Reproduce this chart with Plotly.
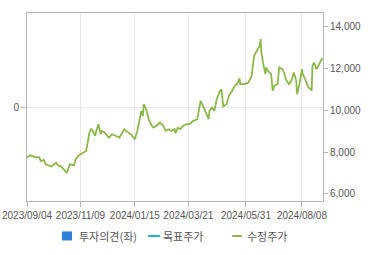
import plotly.graph_objects as go

dates = [
    "2023-09-04", "2023-09-08", "2023-09-15", "2023-09-19", "2023-09-21", "2023-09-25", "2023-09-27",
    "2023-10-04", "2023-10-10", "2023-10-12", "2023-10-16", "2023-10-19", "2023-10-23", "2023-10-27",
    "2023-11-01", "2023-11-03", "2023-11-06", "2023-11-09", "2023-11-16", "2023-11-20", "2023-11-22",
    "2023-11-24", "2023-11-27", "2023-11-28", "2023-12-01", "2023-12-04", "2023-12-05", "2023-12-08",
    "2023-12-14", "2023-12-18", "2023-12-22", "2023-12-27", "2024-01-02", "2024-01-04", "2024-01-10",
    "2024-01-15", "2024-01-18", "2024-01-22", "2024-01-23", "2024-01-25", "2024-01-26", "2024-01-29",
    "2024-02-01", "2024-02-05", "2024-02-07", "2024-02-13", "2024-02-15", "2024-02-19", "2024-02-22",
    "2024-02-26", "2024-02-29", "2024-03-04", "2024-03-05", "2024-03-08", "2024-03-11", "2024-03-14",
    "2024-03-19", "2024-03-22", "2024-03-27", "2024-04-01", "2024-04-03", "2024-04-05", "2024-04-08",
    "2024-04-10", "2024-04-15", "2024-04-16", "2024-04-19", "2024-04-22", "2024-04-25", "2024-04-29",
    "2024-05-01", "2024-05-02", "2024-05-03", "2024-05-07", "2024-05-10", "2024-05-14", "2024-05-17",
    "2024-05-20", "2024-05-23", "2024-05-24", "2024-05-29", "2024-06-03", "2024-06-07", "2024-06-10",
    "2024-06-13", "2024-06-17", "2024-06-18", "2024-06-19", "2024-06-21", "2024-06-24", "2024-06-25",
    "2024-06-27", "2024-07-01", "2024-07-03", "2024-07-05", "2024-07-09", "2024-07-11", "2024-07-15",
    "2024-07-17", "2024-07-19", "2024-07-23", "2024-07-26", "2024-07-29", "2024-08-01", "2024-08-02",
    "2024-08-05", "2024-08-08", "2024-08-09", "2024-08-12", "2024-08-16", "2024-08-19", "2024-08-20",
    "2024-08-21", "2024-08-23", "2024-08-26", "2024-08-29", "2024-09-02",
]
adj_price = [
    7750, 7850, 7750, 7760, 7580, 7620, 7420,
    7310, 7500, 7375, 7310, 7180, 7025, 7420,
    7375, 7660, 7820, 7900, 8060, 8945, 9100,
    9020, 8780, 8940, 9340, 8860, 9020, 8970,
    8700, 8860, 8780, 8700, 9100, 9020, 8860,
    8620, 9020, 9740, 9980, 9740, 10300, 10060,
    9580, 9260, 9180, 9340, 9420, 9260, 9020,
    9100, 9020, 9100, 8900, 9180, 9100, 9260,
    9340, 9340, 9500, 9580, 10060, 10460, 10220,
    10060, 9580, 9980, 10140, 9980, 10540, 10940,
    11000, 10540, 10190, 10300, 10700, 10940, 11180,
    11260, 11535, 11260, 11260, 11340, 11660, 12620,
    12860, 13100, 13420, 12780, 12300, 11740, 12060,
    11900, 11740, 10940, 11180, 11260, 12060, 11980,
    11820, 11500, 11260, 11420, 11820, 11420, 10780,
    11260, 11980, 11740, 11500, 11100, 11020, 10940,
    12140, 12300, 11980, 12220, 12500,
]
# 투자의견 / 목표주가: no values shown in the reference period
opinion_dates = []
opinion_vals = []

x_tick_vals = ["2023-09-04", "2023-11-09", "2024-01-15", "2024-03-21", "2024-05-31", "2024-08-08"]
x_tick_text = ["2023/09/04", "2023/11/09", "2024/01/15", "2024/03/21", "2024/05/31", "2024/08/08"]
left_ticks = [0]
left_tick_text = ["0"]
right_ticks = [6000, 8000, 10000, 12000, 14000]
right_tick_text = ["6,000", "8,000", "10,000", "12,000", "14,000"]
legend_names = ["투자의견(좌)", "목표주가", "수정주가"]
legend_colors = ["#2f7ed8", "#1fb3c8", "#8cb84a"]

GRAY = "#b4b4b4"
TXT = "#555555"
num_font = dict(family="Liberation Sans, Arial", size=10, color=TXT)

fig = go.Figure()
fig.add_trace(go.Bar(x=opinion_dates, y=opinion_vals, yaxis="y",
                     marker_color=legend_colors[0], showlegend=False, name=legend_names[0]))
fig.add_trace(go.Scatter(x=dates, y=adj_price, mode="lines", yaxis="y2",
                         line=dict(color=legend_colors[2], width=1.8), showlegend=False,
                         name=legend_names[2]))

fig.update_layout(
    width=370, height=255,
    margin=dict(l=27, r=47, t=13, b=54, autoexpand=False),
    paper_bgcolor="white", plot_bgcolor="white",
    showlegend=False,
    xaxis=dict(type="date", range=["2023-09-04", "2024-09-03"], automargin=False,
               tickvals=x_tick_vals, ticktext=x_tick_text, tickfont=num_font,
               tickangle=0,
               showgrid=True, gridcolor="#e8e8e8", gridwidth=1,
               showline=True, linecolor=GRAY, linewidth=1, mirror=True,
               ticks="outside", ticklen=5, tickcolor=GRAY, zeroline=False),
    yaxis=dict(range=[-1, 1], tickvals=left_ticks, ticktext=left_tick_text, tickfont=num_font,
               automargin=False,
               showgrid=True, gridcolor="#e8e8e8", zeroline=False,
               showline=True, linecolor=GRAY, linewidth=1,
               ticks="outside", ticklen=5, tickcolor=GRAY),
    yaxis2=dict(range=[5660, 14670], overlaying="y", side="right", automargin=False,
                tickvals=right_ticks, ticktext=right_tick_text, tickfont=num_font,
                showgrid=False, zeroline=False,
                showline=True, linecolor=GRAY, linewidth=1,
                ticks="outside", ticklen=4, tickcolor=GRAY),
)

# legend (manual, to match the compact symbols of the reference)
leg_y = -0.186
kfont = dict(family="Noto Sans CJK KR", size=11, color=TXT)
fig.add_shape(type="rect", xref="paper", yref="paper", x0=0.118, x1=0.152,
              y0=-0.210, y1=-0.162, fillcolor=legend_colors[0], line=dict(width=0))
fig.add_shape(type="line", xref="paper", yref="paper", x0=0.409, x1=0.449,
              y0=leg_y, y1=leg_y, line=dict(color=legend_colors[1], width=2))
fig.add_shape(type="line", xref="paper", yref="paper", x0=0.693, x1=0.726,
              y0=leg_y, y1=leg_y, line=dict(color=legend_colors[2], width=2))
for xp, name in zip([0.169, 0.453, 0.736], legend_names):
    fig.add_annotation(xref="paper", yref="paper", x=xp, y=leg_y, text=name,
                       showarrow=False, xanchor="left", yanchor="middle", font=kfont)

fig.write_html("out.html")
